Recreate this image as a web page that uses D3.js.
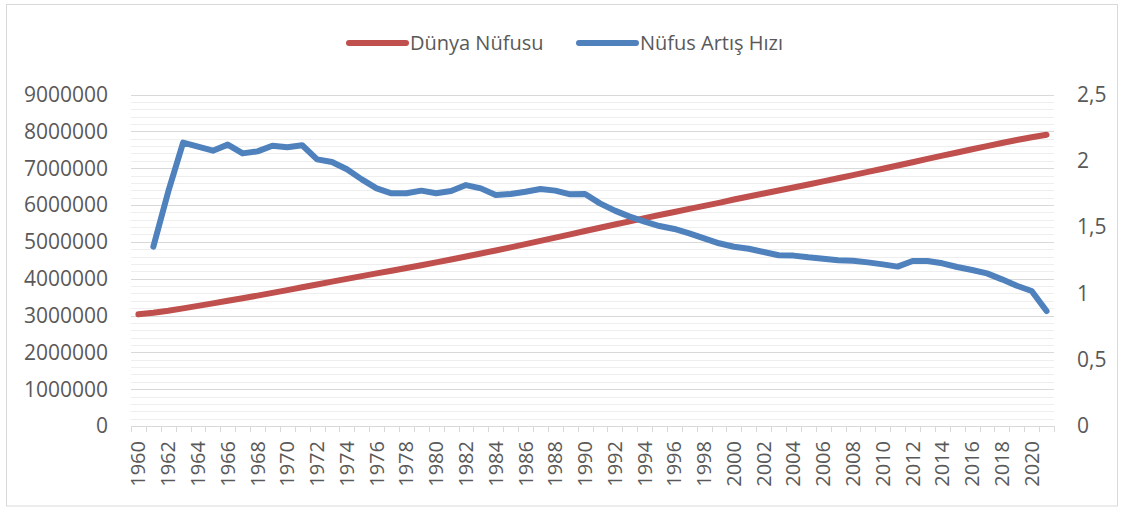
<!DOCTYPE html>
<html>
<head>
<meta charset="utf-8">
<script src="https://cdn.jsdelivr.net/npm/d3@7"></script>
<style>
  body { margin: 0; background: #fff; }
  svg { display: block; font-family: "Open Sans", sans-serif; }
</style>
</head>
<body>
<script>
// years on the x axis
const years = d3.range(1960, 2022);

// world population (thousands)
const population = [
  3031474, 3072421, 3126849, 3193428, 3260442, 3328660, 3398648, 3468713, 3540164, 3614571,
  3690306, 3767816, 3843610, 3920225, 3995515, 4069437, 4142506, 4215772, 4289657, 4365585,
  4442400, 4520993, 4602873, 4684878, 4766417, 4850041, 4936424, 5024552, 5113553, 5202383,
  5293517, 5382287, 5470200, 5556640, 5642314, 5726933, 5811097, 5894358, 5976657, 6058124,
  6148899, 6230746, 6312407, 6393898, 6475751, 6558176, 6641416, 6725949, 6811597, 6898306,
  6985603, 7073125, 7161698, 7250593, 7339013, 7426597, 7513474, 7599822, 7683790, 7764951,
  7840953, 7909295
];

// population growth rate (%), no value for 1960
const growthRate = [
  null, 1.352, 1.767, 2.137, 2.107, 2.076, 2.122, 2.056, 2.071, 2.114,
  2.102, 2.117, 2.011, 1.991, 1.936, 1.860, 1.792, 1.755, 1.755, 1.775,
  1.755, 1.772, 1.817, 1.792, 1.742, 1.750, 1.767, 1.787, 1.775, 1.747,
  1.750, 1.679, 1.624, 1.579, 1.541, 1.508, 1.486, 1.453, 1.415, 1.378,
  1.352, 1.337, 1.312, 1.288, 1.285, 1.272, 1.262, 1.250, 1.247, 1.234,
  1.219, 1.202, 1.244, 1.244, 1.227, 1.199, 1.176, 1.151, 1.106, 1.058,
  1.018, 0.867
];

const leftTicks = d3.range(0, 9000001, 1000000);
const rightTicks = [0, 0.5, 1, 1.5, 2, 2.5];
const seriesNames = ["Dünya Nüfusu", "Nüfus Artış Hızı"];
const colors = ["#C0504D", "#4F81BD"];

const width = 1124, height = 509;
const plotLeft = 131, plotRight = 1054, plotTop = 94.5, plotBottom = 426;
const textColor = "#595959";

const svg = d3.select("body").append("svg")
    .attr("width", width).attr("height", height);

// chart border
svg.append("rect")
    .attr("x", 6.5).attr("y", 4.5)
    .attr("width", 1111).attr("height", 501.5)
    .attr("fill", "#fff").attr("stroke", "#d9d9d9");

const x = d3.scaleBand().domain(years).range([plotLeft, plotRight]).padding(0);
const yL = d3.scaleLinear().domain([0, 9000000]).range([plotBottom, plotTop]);
const yR = d3.scaleLinear().domain([0, 2.5]).range([plotBottom, plotTop]);
const cx = d => x(d) + x.bandwidth() / 2;

// minor gridlines
svg.append("g")
  .selectAll("line")
  .data(d3.range(200000, 9000000, 200000).filter(v => v % 1000000 !== 0))
  .join("line")
    .attr("x1", plotLeft).attr("x2", plotRight)
    .attr("y1", d => Math.round(yL(d)) + 0.5).attr("y2", d => Math.round(yL(d)) + 0.5)
    .attr("stroke", "#eeeeee");

// major gridlines
svg.append("g")
  .selectAll("line")
  .data(leftTicks.slice(1))
  .join("line")
    .attr("x1", plotLeft).attr("x2", plotRight)
    .attr("y1", d => Math.round(yL(d)) + 0.5).attr("y2", d => Math.round(yL(d)) + 0.5)
    .attr("stroke", "#d9d9d9");

// left axis labels
svg.append("g")
  .selectAll("text")
  .data(leftTicks)
  .join("text")
    .attr("x", 108).attr("y", d => yL(d))
    .attr("dy", "0.35em")
    .attr("text-anchor", "end")
    .attr("font-size", 21)
    .attr("fill", textColor)
    .text(d => d);

// right axis labels
svg.append("g")
  .selectAll("text")
  .data(rightTicks)
  .join("text")
    .attr("x", 1077).attr("y", d => yR(d))
    .attr("dy", "0.35em")
    .attr("font-size", 21)
    .attr("fill", textColor)
    .text(d => String(d).replace(".", ","));

// x axis: line, ticks at category edges, labels every two years
const xAxis = svg.append("g");
xAxis.append("line")
    .attr("x1", plotLeft).attr("x2", plotRight)
    .attr("y1", Math.round(plotBottom) + 0.5).attr("y2", Math.round(plotBottom) + 0.5)
    .attr("stroke", "#d9d9d9");
xAxis.selectAll("line.tick")
  .data(years.concat([null]))
  .join("line")
    .attr("class", "tick")
    .attr("x1", d => Math.round(d === null ? plotRight : x(d)) + 0.5)
    .attr("x2", d => Math.round(d === null ? plotRight : x(d)) + 0.5)
    .attr("y1", plotBottom).attr("y2", plotBottom + 6)
    .attr("stroke", "#d9d9d9");
xAxis.selectAll("text")
  .data(years.filter(d => d % 2 === 0))
  .join("text")
    .attr("transform", d => `translate(${cx(d)},441) rotate(-90)`)
    .attr("dy", "0.35em")
    .attr("text-anchor", "end")
    .attr("font-size", 20)
    .attr("fill", textColor)
    .text(d => d);

// lines
const popLine = d3.line()
    .x((d, i) => cx(years[i]))
    .y(d => yL(d));
const rateLine = d3.line()
    .defined(d => d !== null)
    .x((d, i) => cx(years[i]))
    .y(d => yR(d));

svg.append("path")
    .attr("d", popLine(population))
    .attr("fill", "none")
    .attr("stroke", colors[0])
    .attr("stroke-width", 6)
    .attr("stroke-linecap", "round")
    .attr("stroke-linejoin", "round");

svg.append("path")
    .attr("d", rateLine(growthRate))
    .attr("fill", "none")
    .attr("stroke", colors[1])
    .attr("stroke-width", 6)
    .attr("stroke-linecap", "round")
    .attr("stroke-linejoin", "round");

// legend
const legendX = [349, 579];
const legend = svg.append("g")
  .selectAll("g")
  .data(seriesNames)
  .join("g")
    .attr("transform", (d, i) => `translate(${legendX[i]},43)`);
legend.append("line")
    .attr("x1", 0).attr("x2", 57)
    .attr("stroke", (d, i) => colors[i])
    .attr("stroke-width", 6)
    .attr("stroke-linecap", "round");
legend.append("text")
    .attr("x", 61).attr("dy", "0.35em")
    .attr("font-size", 20)
    .attr("fill", textColor)
    .text(d => d);
</script>
</body>
</html>
